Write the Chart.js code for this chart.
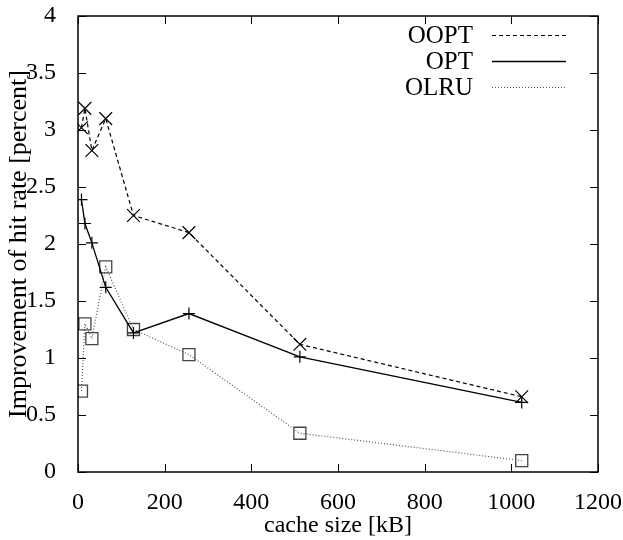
<!DOCTYPE html>
<html>
<head>
<meta charset="utf-8">
<script src="https://cdn.jsdelivr.net/npm/chart.js@4/dist/chart.umd.min.js"></script>
<style>
  html, body { margin: 0; padding: 0; background: #fff; }
  #wrap { width: 623px; height: 540px; }
</style>
</head>
<body>
<div id="wrap"><canvas id="hits"></canvas></div>
<script>
// cache sizes in kB and hit-rate improvement in percent
const cacheSizes = [8, 16, 32, 64, 128, 256, 512, 1024];
const ooptVals = [3.02, 3.19, 2.82, 3.10, 2.25, 2.10, 1.12, 0.66];
const optVals  = [2.39, 2.18, 2.01, 1.62, 1.22, 1.39, 1.01, 0.61];
const olruVals = [0.71, 1.30, 1.17, 1.80, 1.25, 1.03, 0.34, 0.10];

const xTicks = [0, 200, 400, 600, 800, 1000, 1200];
const yTicks = [0, 0.5, 1, 1.5, 2, 2.5, 3, 3.5, 4];

const serif = 'Liberation Serif, Times New Roman, serif';

function pts(vals) {
  return cacheSizes.map((x, i) => ({ x: x, y: vals[i] }));
}

// gnuplot style: ticks pointing inward on all four sides
const innerTicks = {
  id: 'innerTicks',
  afterDraw(chart) {
    const { ctx, chartArea: a, scales } = chart;
    const len = 8;
    ctx.save();
    ctx.strokeStyle = '#000';
    ctx.lineWidth = 1;
    ctx.beginPath();
    xTicks.forEach(v => {
      const px = Math.round(scales.x.getPixelForValue(v)) + 0.5;
      ctx.moveTo(px, a.bottom); ctx.lineTo(px, a.bottom - len);
      ctx.moveTo(px, a.top); ctx.lineTo(px, a.top + len);
    });
    yTicks.forEach(v => {
      const py = Math.round(scales.y.getPixelForValue(v)) + 0.5;
      ctx.moveTo(a.left, py); ctx.lineTo(a.left + len, py);
      ctx.moveTo(a.right, py); ctx.lineTo(a.right - len, py);
    });
    ctx.stroke();
    ctx.lineWidth = 1.5;
    ctx.strokeRect(a.left, a.top, a.right - a.left, a.bottom - a.top);
    ctx.restore();
  }
};

// key in the top right corner: label right-aligned, line sample beside it
const cornerKey = {
  id: 'cornerKey',
  afterDraw(chart) {
    const { ctx, chartArea: a } = chart;
    ctx.save();
    ctx.font = '25px ' + serif;
    ctx.textAlign = 'right';
    ctx.textBaseline = 'middle';
    chart.data.datasets.forEach((ds, i) => {
      const y = a.top + 19 + i * 26;
      ctx.fillStyle = '#000';
      ctx.fillText(ds.label, a.right - 125, y + 1);
      ctx.strokeStyle = ds.borderColor;
      ctx.lineWidth = ds.borderWidth;
      ctx.setLineDash(ds.borderDash || []);
      ctx.beginPath();
      ctx.moveTo(a.right - 106, y + 0.5);
      ctx.lineTo(a.right - 32, y + 0.5);
      ctx.stroke();
    });
    ctx.restore();
  }
};

new Chart(document.getElementById('hits'), {
  type: 'line',
  data: {
    datasets: [
      {
        label: 'OOPT',
        data: pts(ooptVals),
        borderColor: '#000',
        borderWidth: 1.2,
        borderDash: [4, 3],
        pointStyle: 'crossRot',
        pointRadius: 9,
        pointBorderWidth: 1.2,
        pointBorderColor: '#000'
      },
      {
        label: 'OPT',
        data: pts(optVals),
        borderColor: '#000',
        borderWidth: 1.3,
        pointStyle: 'cross',
        pointRadius: 6,
        pointBorderWidth: 1.2,
        pointBorderColor: '#000'
      },
      {
        label: 'OLRU',
        data: pts(olruVals),
        borderColor: '#555',
        borderWidth: 1.2,
        borderDash: [1, 2],
        pointStyle: 'rect',
        pointRadius: 8.5,
        pointBorderWidth: 1.3,
        pointBorderColor: '#444',
        pointBackgroundColor: 'rgba(0,0,0,0)'
      }
    ]
  },
  options: {
    responsive: true,
    maintainAspectRatio: false,
    animation: false,
    layout: { padding: { top: 16, right: 25, left: 0, bottom: 0 } },
    plugins: {
      legend: { display: false },
      tooltip: { enabled: false }
    },
    elements: { line: { tension: 0, fill: false } },
    scales: {
      x: {
        type: 'linear',
        min: 0,
        max: 1200,
        afterBuildTicks: s => { s.ticks = xTicks.map(v => ({ value: v })); },
        afterFit: s => {
          s.height = 68;
          s.paddingLeft = 0;
          s.paddingRight = 0;
        },
        grid: { display: false, drawTicks: false },
        border: { display: false },
        ticks: {
          color: '#000',
          font: { family: serif, size: 24 },
          padding: 16,
          maxRotation: 0,
          callback: v => String(v)
        },
        title: {
          display: true,
          text: 'cache size [kB]',
          color: '#000',
          font: { family: serif, size: 24 },
          padding: { top: 0, bottom: 0 }
        }
      },
      y: {
        type: 'linear',
        min: 0,
        max: 4,
        afterBuildTicks: s => { s.ticks = yTicks.map(v => ({ value: v })); },
        afterFit: s => {
          s.width = 78;
          s.paddingTop = 0;
          s.paddingBottom = 0;
        },
        grid: { display: false, drawTicks: false },
        border: { display: false },
        ticks: {
          color: '#000',
          font: { family: serif, size: 24 },
          padding: 22,
          callback: v => String(v)
        },
        title: {
          display: true,
          text: 'Improvement of hit rate [percent]',
          color: '#000',
          font: { family: serif, size: 26 },
          padding: { top: 4, bottom: 0 }
        }
      }
    }
  },
  plugins: [innerTicks, cornerKey]
});
</script>
</body>
</html>
